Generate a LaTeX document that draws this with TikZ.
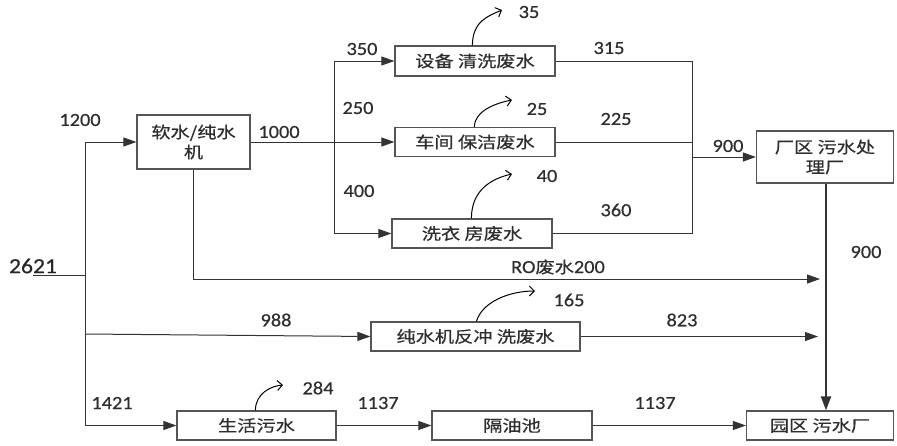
\documentclass[tikz,border=0pt]{standalone}
\usepackage{fontspec}
\setmainfont[FakeStretch=1.1,FakeBold=0.5]{Carlito}
\newfontfamily\cn[FakeStretch=1.2,FakeBold=0.6]{Noto Sans CJK SC}
\usetikzlibrary{arrows.meta,calc}
\definecolor{txt}{HTML}{2E2E2E}
\definecolor{lc}{HTML}{333333}
\definecolor{bx}{HTML}{555555}
\begin{document}
\begin{tikzpicture}[x=1pt,y=-1pt,
 box/.style={draw=bx, line width=1.2pt, rectangle, inner sep=0pt, font=\cn\fontsize{16}{20}\selectfont, text=txt, align=center},
 lbl/.style={font=\fontsize{18.5}{20}\selectfont, text=txt, inner sep=0pt},
 ln/.style={draw=lc, line width=1pt},
 flow/.style={ln, -{Triangle[length=13pt,width=9pt]}},
 curv/.style={draw=black, line width=1pt, -{Straight Barb[length=5pt,width=10pt]}}]
\useasboundingbox (0,0) rectangle (897,445);
% boxes
\node[box, minimum width=113pt, minimum height=54pt] (soft) at (193.5,142) {软水/纯水\\机};
\node[box, minimum width=160pt, minimum height=30pt] (eq) at (475,61) {设备 清洗废水};
\node[box, minimum width=160pt, minimum height=29pt] (ws) at (475,142) {车间 保洁废水};
\node[box, minimum width=160pt, minimum height=29pt] (ld) at (472,233.5) {洗衣 房废水};
\node[box, minimum width=137pt, minimum height=52pt] (fq) at (825,157) {厂区 污水处\\理厂};
\node[box, minimum width=209pt, minimum height=29pt] (ro) at (475.5,336.5) {纯水机反冲 洗废水};
\node[box, minimum width=159pt, minimum height=29pt] (dom) at (256.5,425.5) {生活污水};
\node[box, minimum width=160pt, minimum height=29pt] (oil) at (512,425.5) {隔油池};
\node[box, minimum width=147pt, minimum height=29pt] (park) at (820,425.5) {园区 污水厂};
% coordinates
\coordinate (in) at (33,275);
\coordinate (j) at (85,275);
\coordinate (j2) at (85,334);
\coordinate (sp) at (334,142);
\coordinate (mg) at (692,157);
\coordinate (roend) at (820,279);
\coordinate (bwend) at (818,336.5);
% connectors
\draw[ln] (in) -- (j);
\draw[flow] (j) |- (soft.west);
\draw[flow] (j) |- (dom.west);
\draw[flow] (j2) -- (ro.west);
\draw[ln] (soft.east) -- (sp);
\draw[flow] (sp) |- (eq.west);
\draw[flow] (sp) -- (ws.west);
\draw[flow] (sp) |- (ld.west);
\draw[ln] (eq.east) -| (mg);
\draw[ln] (ld.east) -| (mg);
\draw[ln] (ws.east) -- (ws.east -| mg);
\draw[flow] (mg) -- (fq.west);
\draw[ln, line width=2pt, -{Triangle[length=14pt,width=10pt]}] (fq.south -| 826,0) -- (park.north -| 826,0);
\draw[flow] (soft.south) |- (roend);
\draw[flow] (ro.east) -- (bwend);
\draw[flow] (dom.east) -- (oil.west);
\draw[flow] (oil.east) -- (park.west);
% curved loss arrows
\draw[curv] ($(eq.north west)+(78,0)$) .. controls +(0,-24) and +(-14,6) .. (502,10);
\draw[curv] ($(ws.north west)+(80,0)$) .. controls +(0,-16) and +(-16,3) .. (512,100);
\draw[curv] ($(ld.north west)+(80,0)$) .. controls +(0,-30) and +(-18,4) .. (512,174);
\draw[curv] ($(ro.north west)+(106,0)$) .. controls +(6,-20) and +(-25,0) .. (535,291);
\draw[curv] ($(dom.north west)+(79,0)$) .. controls +(0,-17) and +(-12,1) .. (283,385);
% labels
\node[lbl, font=\fontsize{21.5}{24}\selectfont, text=black!85] (l2621) at (33,266) {2621};
\node[lbl] (l1200) at (80,120) {1200};
\node[lbl] (l1000) at (279,132) {1000};
\node[lbl] (l350) at (362,49) {350};
\node[lbl] (l250) at (358,108) {250};
\node[lbl] (l400) at (359,191) {400};
\node[lbl] (l35) at (529,12) {35};
\node[lbl] (l25) at (537,109) {25};
\node[lbl] (l40) at (547,176) {40};
\node[lbl] (l315) at (609,48) {315};
\node[lbl] (l225) at (616,119) {225};
\node[lbl] (l360) at (616,210) {360};
\node[lbl] (l900a) at (728,146) {900};
\node[lbl] (l900b) at (866,252) {900};
\node[lbl] (lro) at (558,267) {RO{\cn\fontsize{16}{18}\selectfont 废水}200};
\node[lbl] (l988) at (276,320) {988};
\node[lbl] (l165) at (569,300) {165};
\node[lbl] (l823) at (682,320) {823};
\node[lbl] (l1421) at (112,403) {1421};
\node[lbl] (l284) at (318,388) {284};
\node[lbl] (l1137a) at (378,403) {1137};
\node[lbl] (l1137b) at (655,403) {1137};
\end{tikzpicture}
\end{document}
